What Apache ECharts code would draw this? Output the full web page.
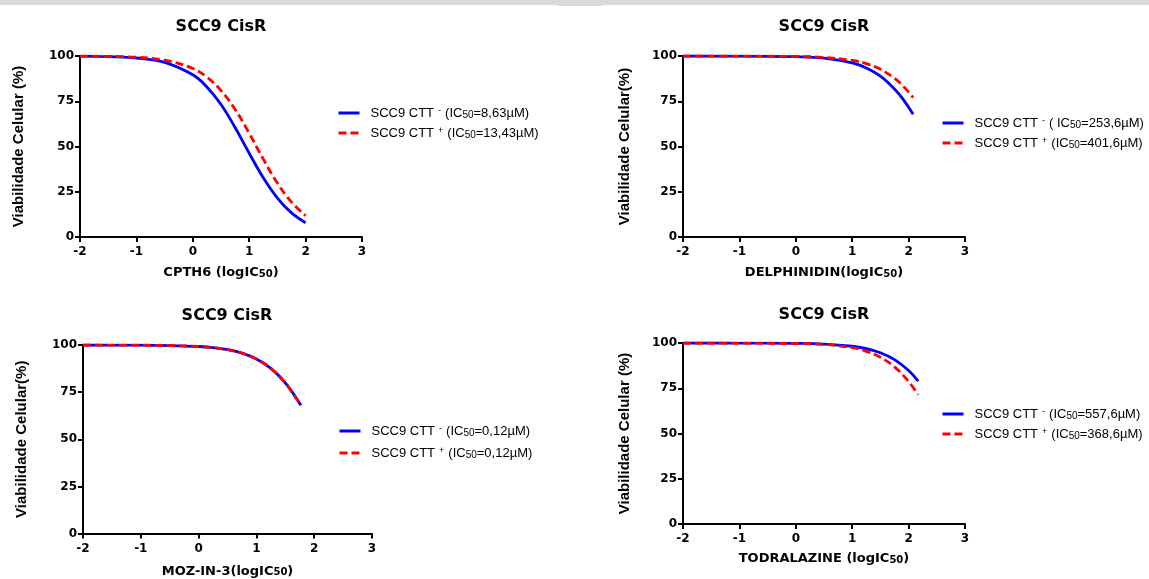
<!DOCTYPE html>
<html>
<head>
<meta charset="utf-8">
<script src="https://cdn.jsdelivr.net/npm/echarts@6/dist/echarts.min.js"></script>
<style>
  html, body { margin: 0; padding: 0; background: #fff; }
  #chart { width: 1149px; height: 579px; }
</style>
</head>
<body>
<div id="chart"></div>
<script>
  // log doses (x) and viability (%)
  const cpth6Dose = [-2, -1.5, -1, -0.5, 0, 0.25, 0.5, 0.75, 1, 1.25, 1.5, 1.75, 2]
  const cpth6Neg = [99.9, 99.6, 98.9, 96.5, 89.6, 82.9, 73.2, 60.5, 46.3, 32.7, 21.5, 13.3, 7.9]
  const cpth6Pos = [99.9, 99.8, 99.3, 97.7, 93.1, 88.3, 80.9, 70.5, 57.3, 43.0, 29.8, 19.3, 11.8]

  const delphDose = [-2, -1, 0, 0.5, 1, 1.25, 1.5, 1.75, 1.9, 2.08]
  const delphNeg = [100, 99.96, 99.6, 98.8, 96.2, 93.4, 88.9, 81.8, 76.2, 67.8]
  const delphPos = [100, 99.98, 99.75, 99.2, 97.6, 95.8, 92.7, 87.7, 83.5, 77.0]

  const mozDose = [-2, -1, -0.5, 0, 0.25, 0.5, 0.75, 1, 1.25, 1.5, 1.77]
  const mozNeg = [100, 99.9, 99.7, 99.2, 98.6, 97.5, 95.7, 92.6, 87.6, 79.9, 68.0]
  const mozPos = [100, 99.9, 99.7, 99.2, 98.6, 97.5, 95.7, 92.6, 87.6, 79.9, 68.0]

  const todDose = [-2, -1, 0, 0.5, 1, 1.25, 1.5, 1.75, 2, 2.17]
  const todNeg = [100, 99.98, 99.8, 99.4, 98.2, 96.9, 94.6, 90.8, 84.8, 79.0]
  const todPos = [100, 99.97, 99.7, 99.2, 97.4, 95.4, 92.1, 86.8, 78.7, 71.4]

  const drugNames = ['CPTH6 (logIC', 'DELPHINIDIN(logIC', 'MOZ-IN-3(logIC', 'TODRALAZINE (logIC']
  const yNames = ['Viabilidade Celular (%)', 'Viabilidade Celular(%)', 'Viabilidade Celular(%)', 'Viabilidade Celular (%)']
  const ic50Neg = ['(IC', '( IC', '(IC', '(IC']
  const ic50NegVal = ['8,63', '253,6', '0,12', '557,6']
  const ic50PosVal = ['13,43', '401,6', '0,12', '368,6']

  const panels = [
    { grid: { left: 80, top: 56, width: 282, height: 181 }, titleX: 221, titleY: 19, xGap: 28, yGap: 54, legend: { left: 337, top: 106, gap: 6 }, dose: cpth6Dose, neg: cpth6Neg, pos: cpth6Pos },
    { grid: { left: 683, top: 56, width: 282, height: 181 }, titleX: 824, titleY: 19, xGap: 28, yGap: 51, legend: { left: 941, top: 116, gap: 6 }, dose: delphDose, neg: delphNeg, pos: delphPos },
    { grid: { left: 83, top: 345, width: 289, height: 190 }, titleX: 227, titleY: 308, xGap: 30, yGap: 54, legend: { left: 338, top: 424, gap: 8 }, dose: mozDose, neg: mozNeg, pos: mozPos },
    { grid: { left: 683, top: 343, width: 282, height: 181 }, titleX: 824, titleY: 307, xGap: 27, yGap: 51, legend: { left: 941, top: 407, gap: 6 }, dose: todDose, neg: todNeg, pos: todPos }
  ]

  const boldFont = 'DejaVu Sans'
  const legendRich = {
    g: { width: 6 },
    t: { fontFamily: 'Liberation Sans', fontSize: 13, color: '#000', lineHeight: 14, verticalAlign: 'bottom' },
    sup: { fontFamily: 'Liberation Sans', fontSize: 9, color: '#000', lineHeight: 9, verticalAlign: 'top', padding: [0, 4, 0, 4] },
    sub: { fontFamily: 'Liberation Sans', fontSize: 10, color: '#000', lineHeight: 12, verticalAlign: 'bottom' }
  }

  let chart = echarts.init(document.getElementById('chart'))
  let option = {
    animation: false,
    backgroundColor: '#fff',
    graphic: [
      { type: 'rect', silent: true, shape: { x: 0, y: 0, width: 1149, height: 5 }, style: { fill: '#d9d9d9' } },
      { type: 'rect', silent: true, shape: { x: 558, y: 0, width: 44, height: 6 }, style: { fill: '#d9d9d9' } }
    ],
    title: [],
    grid: [],
    xAxis: [],
    yAxis: [],
    legend: [],
    series: []
  }

  panels.forEach((p, i) => {
    option.title.push({
      text: 'SCC9 CisR',
      left: p.titleX,
      top: p.titleY,
      textAlign: 'center',
      padding: 0,
      textStyle: { fontFamily: boldFont, fontWeight: 'bold', fontSize: 16, color: '#000' }
    })
    option.grid.push(Object.assign({ containLabel: false }, p.grid))
    option.xAxis.push({
      type: 'value',
      gridIndex: i,
      min: -2,
      max: 3,
      interval: 1,
      name: '{m|' + drugNames[i] + '}{s|50}{m|)}',
      nameLocation: 'middle',
      nameGap: p.xGap,
      nameTextStyle: {
        fontFamily: boldFont, fontWeight: 'bold', fontSize: 13, color: '#000', verticalAlign: 'top',
        rich: {
          m: { fontFamily: boldFont, fontWeight: 'bold', fontSize: 13, color: '#000', lineHeight: 16, verticalAlign: 'middle' },
          s: { fontFamily: boldFont, fontWeight: 'bold', fontSize: 10, color: '#000', lineHeight: 16, verticalAlign: 'middle', padding: [2, 0, 0, 0] }
        }
      },
      axisLine: { onZero: false, lineStyle: { color: '#000', width: 2 } },
      axisTick: { length: 5, lineStyle: { color: '#000', width: 2 } },
      axisLabel: { margin: 9, fontFamily: boldFont, fontWeight: 'bold', fontSize: 12, color: '#000' },
      splitLine: { show: false }
    })
    option.yAxis.push({
      type: 'value',
      gridIndex: i,
      min: 0,
      max: 100,
      interval: 25,
      name: yNames[i],
      nameLocation: 'middle',
      nameGap: p.yGap,
      nameTextStyle: { fontFamily: 'Liberation Sans', fontWeight: 'bold', fontSize: 15, color: '#000' },
      axisLine: { show: true, onZero: false, lineStyle: { color: '#000', width: 2 } },
      axisTick: { show: true, length: 5, lineStyle: { color: '#000', width: 2 } },
      axisLabel: { margin: 6, fontFamily: boldFont, fontWeight: 'bold', fontSize: 12, color: '#000' },
      splitLine: { show: false }
    })

    const nNeg = 'neg' + i
    const nPos = 'pos' + i
    const labels = {}
    labels[nNeg] = '{g|}{t|SCC9 CTT}{sup|-}{t|' + ic50Neg[i] + '}{sub|50}{t|=' + ic50NegVal[i] + 'µM)}'
    labels[nPos] = '{g|}{t|SCC9 CTT}{sup|+}{t|(IC}{sub|50}{t|=' + ic50PosVal[i] + 'µM)}'

    option.legend.push({
      orient: 'vertical',
      left: p.legend.left,
      top: p.legend.top,
      padding: 0,
      itemWidth: 21,
      itemHeight: 14,
      itemGap: p.legend.gap,
      selectedMode: false,
      itemStyle: { opacity: 0 },
      lineStyle: { width: 3 },
      data: [nNeg, nPos],
      formatter: name => labels[name],
      textStyle: { color: '#000', rich: legendRich }
    })

    option.series.push({
      name: nNeg,
      type: 'line',
      xAxisIndex: i,
      yAxisIndex: i,
      symbol: 'none',
      smooth: 0.4,
      color: '#0000ff',
      lineStyle: { color: '#0000ff', width: 2.8 },
      data: p.dose.map((d, k) => [d, p.neg[k]])
    })
    option.series.push({
      name: nPos,
      type: 'line',
      xAxisIndex: i,
      yAxisIndex: i,
      symbol: 'none',
      smooth: 0.4,
      color: '#ff0000',
      lineStyle: { color: '#ff0000', width: 2.8, type: [8, 4] },
      data: p.dose.map((d, k) => [d, p.pos[k]])
    })
  })

  chart.setOption(option)
</script>
</body>
</html>
